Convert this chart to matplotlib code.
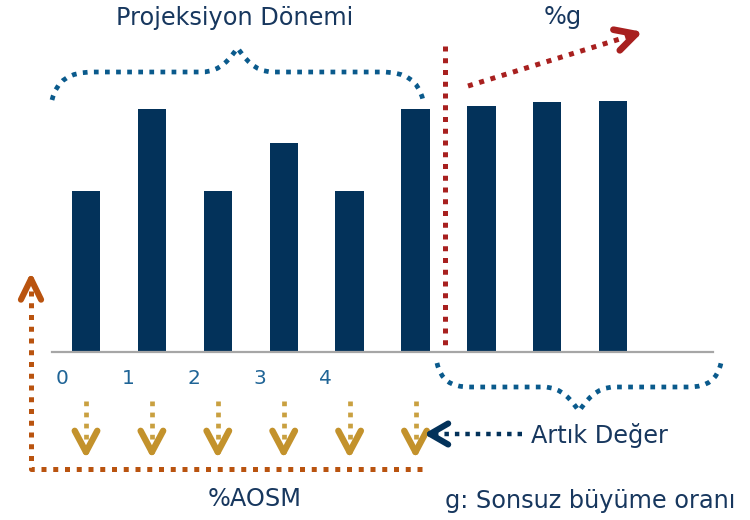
import numpy as np
import matplotlib
matplotlib.use("Agg")
import matplotlib.pyplot as plt
from matplotlib.path import Path
from matplotlib.patches import PathPatch

# ---------------------------------------------------------------------------
# Data
# ---------------------------------------------------------------------------

bar_values = [100, 151, 100, 130, 100, 151, 153, 155, 156]
period_labels = ["0", "1", "2", "3", "4"]
n_discounted = 6   # bars that get a discount arrow underneath

title_text = "Projeksiyon Dönemi"
growth_text = "%g"
terminal_text = "Artık Değer"
wacc_text = "%AOSM"
note_text = "g: Sonsuz büyüme oranı"

NAVY = "#03325a"
TEXT = "#17375e"
TICK = "#1f6496"
BLUE_DOT = "#0a5a8c"
RED = "#a8201f"
GOLD = "#c3922c"
ORANGE = "#b9530f"

W, H = 750, 520

# ---------------------------------------------------------------------------
# Figure / bar axes
# ---------------------------------------------------------------------------

fig = plt.figure(figsize=(W / 100, H / 100), dpi=100)

# bar axes: index i -> pixel 86 + 65.9 * i, baseline at pixel y 352
px0, step = 86, 65.9
ax_left, ax_right, base_px, top_px = 52, 713, 352, 20
unit = 1.61
ax = fig.add_axes([ax_left / W, (H - base_px) / H,
                   (ax_right - ax_left) / W, (base_px - top_px) / H])
x = np.arange(len(bar_values))
ax.bar(x, bar_values, width=0.43, color=NAVY, zorder=2)
ax.set_xlim((ax_left - px0) / step, (ax_right - px0) / step)
ax.set_ylim(0, (base_px - top_px) / unit)
for s in ("top", "left", "right"):
    ax.spines[s].set_visible(False)
ax.spines["bottom"].set_color("#a6a6a6")
ax.spines["bottom"].set_linewidth(1.6)
ax.set_yticks([])
ax.set_xticks(np.arange(len(period_labels)) - 0.36)
ax.set_xticklabels(period_labels, color=TICK, fontsize=14.5)
ax.tick_params(axis="x", length=0, pad=12)
ax.patch.set_alpha(0)

# overlay in pixel coordinates for the decorations
ov = fig.add_axes([0, 0, 1, 1])
ov.set_xlim(0, W)
ov.set_ylim(H, 0)
ov.axis("off")
ov.patch.set_alpha(0)

DOTS = (0, (1, 1.35))


def bar_px(i):
    return px0 + step * i


def brace(x0, x1, y_end, y_flat, y_tip, r_end, r_mid, color):
    xm = (x0 + x1) / 2
    verts = [
        (x0, y_end),
        (x0 + r_end * 0.12, y_flat + (y_end - y_flat) * 0.3), (x0 + r_end * 0.4, y_flat), (x0 + r_end, y_flat),
        (xm - r_mid, y_flat),
        (xm - r_mid * 0.45, y_flat), (xm - r_mid * 0.2, y_flat + (y_tip - y_flat) * 0.6), (xm, y_tip),
        (xm + r_mid * 0.2, y_flat + (y_tip - y_flat) * 0.6), (xm + r_mid * 0.45, y_flat), (xm + r_mid, y_flat),
        (x1 - r_end, y_flat),
        (x1 - r_end * 0.4, y_flat), (x1 - r_end * 0.12, y_flat + (y_end - y_flat) * 0.3), (x1, y_end),
    ]
    codes = [Path.MOVETO, Path.CURVE4, Path.CURVE4, Path.CURVE4, Path.LINETO,
             Path.CURVE4, Path.CURVE4, Path.CURVE4, Path.CURVE4, Path.CURVE4, Path.CURVE4,
             Path.LINETO, Path.CURVE4, Path.CURVE4, Path.CURVE4]
    ov.add_patch(PathPatch(Path(verts, codes), fill=False, edgecolor=color, lw=3.4,
                           linestyle=DOTS, capstyle="butt"))


def arrow(start, tip, color, shaft_lw=3.4, head_lw=4.2, head_len=22, half_angle=28,
          shaft_color=None):
    sx, sy = start
    tx, ty = tip
    d = np.array([tx - sx, ty - sy], float)
    d /= np.hypot(*d)
    ov.plot([sx, tx - d[0] * 6], [sy, ty - d[1] * 6], color=shaft_color or color,
            lw=shaft_lw, linestyle=DOTS, dash_capstyle="butt")
    for sgn in (1, -1):
        a = np.deg2rad(sgn * half_angle)
        rot = np.array([[np.cos(a), -np.sin(a)], [np.sin(a), np.cos(a)]])
        bx, by = np.array([tx, ty]) - head_len * (rot @ d)
        ov.plot([bx, tx], [by, ty], color=color, lw=head_lw, solid_capstyle="round")


# projection-period brace
brace(52, 423, 100, 72, 48, 42, 36, BLUE_DOT)
# terminal-value brace (upside down)
brace(437, 721, 363, 387, 411, 33, 36, BLUE_DOT)

# split line between projection and terminal period
ov.plot([445, 445], [46, 350], color=RED, lw=3.6, linestyle=DOTS, dash_capstyle="butt")
# growth arrow
arrow((468, 86), (636, 34), RED, shaft_lw=3.6, head_lw=4.8, head_len=23, half_angle=28)

# discount arrows under each projection bar
for i in range(n_discounted):
    xc = bar_px(i)
    arrow((xc, 401), (xc, 452), GOLD, shaft_lw=3.4, head_lw=4.6, head_len=24, half_angle=28,
          shaft_color="#c9a040")

# terminal value arrow
arrow((522, 434), (430, 434), NAVY, shaft_lw=3.2, head_lw=4.4, head_len=21, half_angle=30)

# WACC loop
ov.plot([422, 31, 31], [469, 469, 284], color=ORANGE, lw=3.6, linestyle=DOTS,
        dash_capstyle="butt")
arrow((31, 284), (31, 279), ORANGE, shaft_lw=3.6, head_lw=4.4, head_len=23, half_angle=26)

# texts
FS = 17.3
ov.text(235, 18, title_text, color=TEXT, fontsize=FS, ha="center", va="center")
ov.text(563, 17, growth_text, color=TEXT, fontsize=FS, ha="center", va="center")
ov.text(531, 435, terminal_text, color=TEXT, fontsize=FS, ha="left", va="center")
ov.text(255, 499, wacc_text, color=TEXT, fontsize=FS, ha="center", va="center")
ov.text(445, 501, note_text, color=TEXT, fontsize=FS, ha="left", va="center")

fig.savefig("out.png", dpi=100)
